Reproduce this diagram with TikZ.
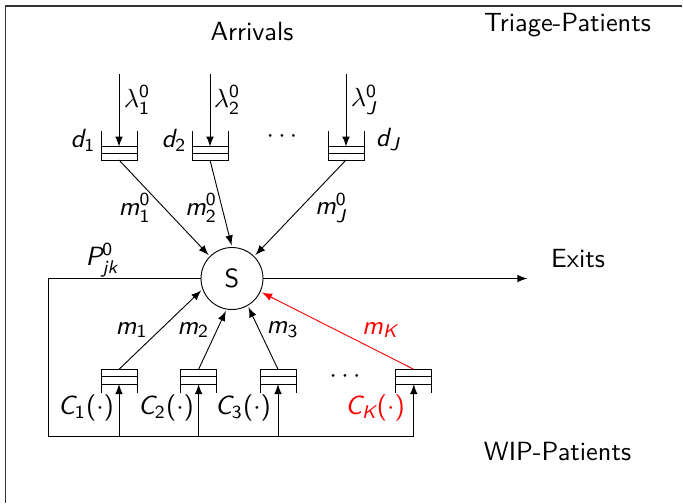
\documentclass[tikz,border=0pt]{standalone}
\renewcommand\familydefault{\sfdefault}
\DeclareSymbolFont{operators}{TU}{lmss}{m}{n}
\DeclareSymbolFont{sfletters}{TU}{lmss}{m}{sl}
\DeclareMathSymbol{m}{\mathalpha}{sfletters}{`m}
\DeclareMathSymbol{d}{\mathalpha}{sfletters}{`d}
\DeclareMathSymbol{C}{\mathalpha}{sfletters}{`C}
\DeclareMathSymbol{J}{\mathalpha}{sfletters}{`J}
\DeclareMathSymbol{K}{\mathalpha}{sfletters}{`K}
\DeclareMathSymbol{P}{\mathalpha}{sfletters}{`P}
\DeclareMathSymbol{j}{\mathalpha}{sfletters}{`j}
\DeclareMathSymbol{k}{\mathalpha}{sfletters}{`k}
\usetikzlibrary{calc}
\begin{document}
\begin{tikzpicture}[x=0.38pt,y=-0.38pt,
  line width=0.35pt,
  arr/.style={-latex, shorten >=0.6pt},
  qtop/.style={rectangle, inner sep=0pt, outer sep=0pt, minimum width=13.68pt, minimum height=11.02pt},
  qbot/.style={rectangle, inner sep=0pt, outer sep=0pt, minimum width=13.68pt, minimum height=9.12pt},
  srv/.style={circle, draw, inner sep=0pt, minimum size=23.56pt},
  lbl/.style={inner sep=0pt}]
\useasboundingbox (0,0) rectangle (683,503);
\draw[black!80, line width=0.5pt] (681.7,6) -- (5.5,6) -- (5.5,503);
% titles
\node[lbl] (arr) at (252,32) {Arrivals};
\node[lbl] (tri) at (567.5,25) {Triage-Patients};
\node[lbl] (exl) at (578,259) {Exits};
\node[lbl] (wip) at (557.5,451) {WIP-Patients};
% server
\node[srv] (S) at (232,278.5) {S};
% top queues
\node[qtop] (q1) at (119,145.5) {};
\node[qtop] (q2) at (210,145.5) {};
\node[qtop] (qJ) at (346,145.5) {};
\foreach \q in {q1,q2,qJ}{
  \draw (\q.north west) -- (\q.south west) -- (\q.south east) -- (\q.north east);
  \draw ($(\q.south west)+(0,2.55pt)$) -- ($(\q.south east)+(0,2.55pt)$);
  \draw ($(\q.south west)+(0,5.05pt)$) -- ($(\q.south east)+(0,5.05pt)$);
  \coordinate (\q in) at ($(\q.south)+(0,5.05pt)$);
}
\coordinate (a1) at (119,74);
\coordinate (a2) at (210,74);
\coordinate (aJ) at (346,74);
\draw[-latex] (a1) -- (q1in);
\draw[-latex] (a2) -- (q2in);
\draw[-latex] (aJ) -- (qJin);
\node[lbl] (l1) at (137,100) {$\lambda_1^0$};
\node[lbl] (l2) at (227,100) {$\lambda_2^0$};
\node[lbl] (lJ) at (364,100) {$\lambda_J^0$};
\node[lbl] (d1) at (83,140) {$d_1$};
\node[lbl] (d2) at (174,140) {$d_2$};
\node[lbl] (dJ) at (388,140) {$d_J$};
\node[lbl] (dt1) at (282,137) {$\cdots$};
% top edges
\draw[arr] (q1.south) -- (S.north west);
\draw[arr] (q2.south) -- (S.north);
\draw[arr] (qJ.south) -- (S.north east);
\node[lbl] (m10) at (134.6,208) {$m_1^0$};
\node[lbl] (m20) at (201,208) {$m_2^0$};
\node[lbl] (mJ0) at (331,208) {$m_J^0$};
% exits
\coordinate (ex) at (529,278.5);
\draw[arr] (S.east) -- (ex);
% bottom queues
\node[qbot] (c1) at (119,381.3) {};
\node[qbot] (c2) at (198.6,381.3) {};
\node[qbot] (c3) at (278,381.3) {};
\node[qbot] (cK) at (413.8,381.3) {};
\foreach \q in {c1,c2,c3,cK}{
  \draw (\q.south west) -- (\q.north west) -- (\q.north east) -- (\q.south east);
  \draw ($(\q.north west)+(0,-2.8pt)$) -- ($(\q.north east)+(0,-2.8pt)$);
  \draw ($(\q.north west)+(0,-5.6pt)$) -- ($(\q.north east)+(0,-5.6pt)$);
  \coordinate (\q in) at ($(\q.north)+(0,-5.6pt)$);
}
% loop back
\coordinate (lw) at (48.8,278.5);
\coordinate (lb) at (48.8,436.7);
\coordinate (b1) at (119,436.7);
\coordinate (b2) at (198.6,436.7);
\coordinate (b3) at (278,436.7);
\coordinate (bK) at (413.8,436.7);
\draw (S.west) -- (lw) -- (lb) -- (bK);
\draw[-latex] (b1) -- (c1in);
\draw[-latex] (b2) -- (c2in);
\draw[-latex] (b3) -- (c3in);
\draw[-latex] (bK) -- (cKin);
\node[lbl] (P) at (102,260) {$P_{jk}^0$};
% bottom edges
\draw[arr] (c1.north) -- (S.200);
\draw[arr] (c2.north) -- (S.260);
\draw[arr] (c3.north) -- (S.300);
\draw[arr, red] (cK.north) -- (S.335);
\node[lbl] (m1) at (131.7,330) {$m_1$};
\node[lbl] (m2) at (193.3,330) {$m_2$};
\node[lbl] (m3) at (282.7,330) {$m_3$};
\node[lbl, text=red] (mK) at (380,330) {$m_K$};
\node[lbl] (C1) at (86,408) {$C_1(\cdot)$};
\node[lbl] (C2) at (166,408) {$C_2(\cdot)$};
\node[lbl] (C3) at (243,408) {$C_3(\cdot)$};
\node[lbl, text=red] (CK) at (375,408) {$C_K(\cdot)$};
\node[lbl] (dt2) at (345,377) {$\cdots$};
\end{tikzpicture}
\end{document}
